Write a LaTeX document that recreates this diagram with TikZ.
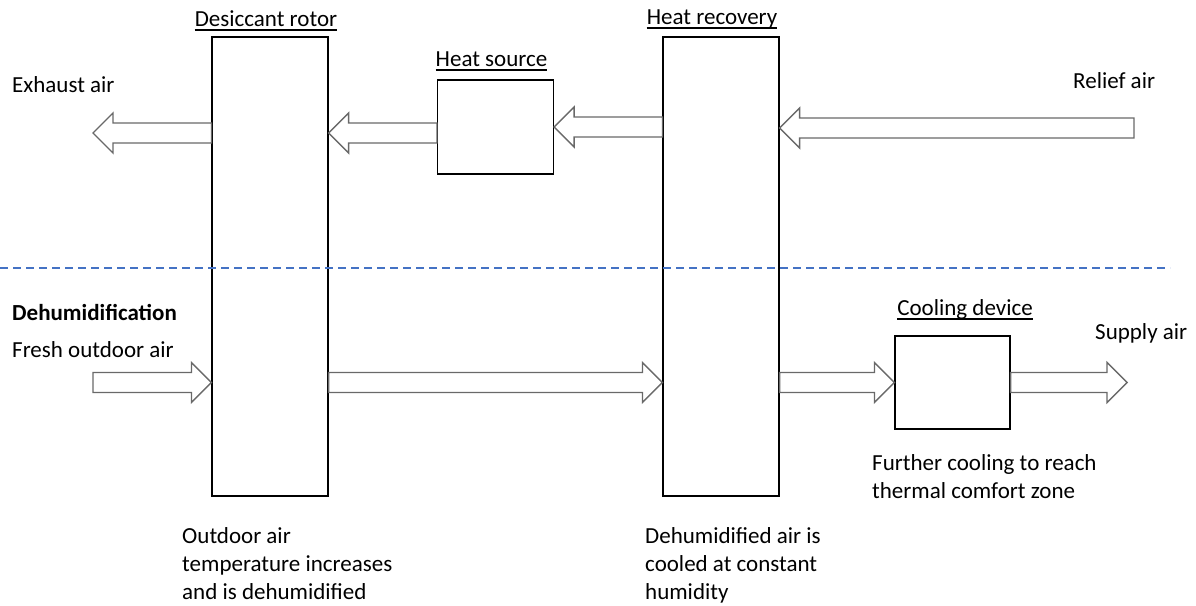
\documentclass[tikz,border=0pt]{standalone}
\usepackage{fontspec}
\setmainfont{Carlito}
\usetikzlibrary{calc}

\definecolor{arrowgray}{RGB}{105,105,105}
\definecolor{dashblue}{RGB}{68,114,196}

\tikzset{
  unit/.style={draw=black, line width=1.1pt, minimum width=116pt, minimum height=459pt, inner sep=0pt},
  box/.style={draw=black, line width=1.1pt, minimum width=116pt, minimum height=94pt, inner sep=0pt},
  title/.style={font=\fontsize{23}{28}\selectfont, inner sep=0pt, anchor=base},
  txt/.style={font=\fontsize{23}{28}\selectfont, inner sep=0pt, anchor=base west},
  note/.style={font=\fontsize{23}{28}\selectfont, inner sep=0pt, anchor=north west, align=left},
  blockarrow/.style={draw=arrowgray, line width=1.4pt, line join=miter},
}

% outlined block arrow from #1 (tail) to #2 (tip), horizontal
\newcommand{\blockarrow}[2]{%
  \draw[blockarrow] let \p1=(#1), \p2=(#2), \n1={sign(\x2-\x1)} in
    (\x1,\y1+10pt) -- (\x2-\n1*20pt,\y1+10pt) -- (\x2-\n1*20pt,\y1+20pt) -- (\x2,\y1)
    -- (\x2-\n1*20pt,\y1-20pt) -- (\x2-\n1*20pt,\y1-10pt) -- (\x1,\y1-10pt) -- cycle;}

\begin{document}
\begin{tikzpicture}[x=1pt, y=-1pt]
  \useasboundingbox (0,0) rectangle (1196,605);

  % Units
  \node[unit] (rotor) at (270,266.5) {};
  \node[unit] (recovery) at (721,266.5) {};
  \node[box] (source) at (495.5,127) {};
  \node[box, minimum width=115pt, minimum height=93pt] (cooler) at (952.5,382.5) {};

  % Unit titles
  \node[title] (rotorlbl) at (266,26) {Desiccant rotor};
  \node[title] (recoverylbl) at (712,24) {Heat recovery};
  \node[title] (sourcelbl) at (491.5,66) {Heat source};
  \node[title] (coolerlbl) at (965,315) {Cooling device};
  \foreach \n in {rotorlbl, recoverylbl, sourcelbl, coolerlbl}
    \draw[line width=1.3pt] ([yshift=-4pt]\n.base west) -- ([yshift=-4pt]\n.base east);

  % Free ends of the air streams
  \coordinate (exhaust) at (93,133);
  \coordinate (relief) at (1134,128);
  \coordinate (fresh) at (93,382.5);
  \coordinate (supply) at (1127,382.5);

  % Regeneration side
  \blockarrow{relief}{recovery.east |- relief}
  \blockarrow{recovery.west |- source.east}{source.east}
  \blockarrow{source.west |- exhaust}{rotor.east |- exhaust}
  \blockarrow{rotor.west |- exhaust}{exhaust}

  % Process side
  \blockarrow{fresh}{rotor.west |- fresh}
  \blockarrow{rotor.east |- fresh}{recovery.west |- fresh}
  \blockarrow{recovery.east |- fresh}{cooler.west}
  \blockarrow{cooler.east}{supply}

  % Divider
  \draw[dashblue, line width=2.4pt, dash pattern=on 8pt off 5pt] (0,268) -- (1170,268);

  % Labels
  \node[txt] (exhaustlbl) at (12,92) {Exhaust air};
  \node[txt] (relieflbl) at (1073,88) {Relief air};
  \node[txt, font=\fontsize{23}{28}\selectfont\bfseries] (dehum) at (12,320) {Dehumidification};
  \node[txt] (freshlbl) at (12,357) {Fresh outdoor air};
  \node[txt] (supplylbl) at (1095,339) {Supply air};
  \node[note] (coolnote) at (872,454) {Further cooling to reach\\thermal comfort zone};
  \node[note] (rotornote) at (182,527) {Outdoor air\\temperature increases\\and is dehumidified};
  \node[note] (recnote) at (645,527) {Dehumidified air is\\cooled at constant\\humidity};
\end{tikzpicture}
\end{document}
